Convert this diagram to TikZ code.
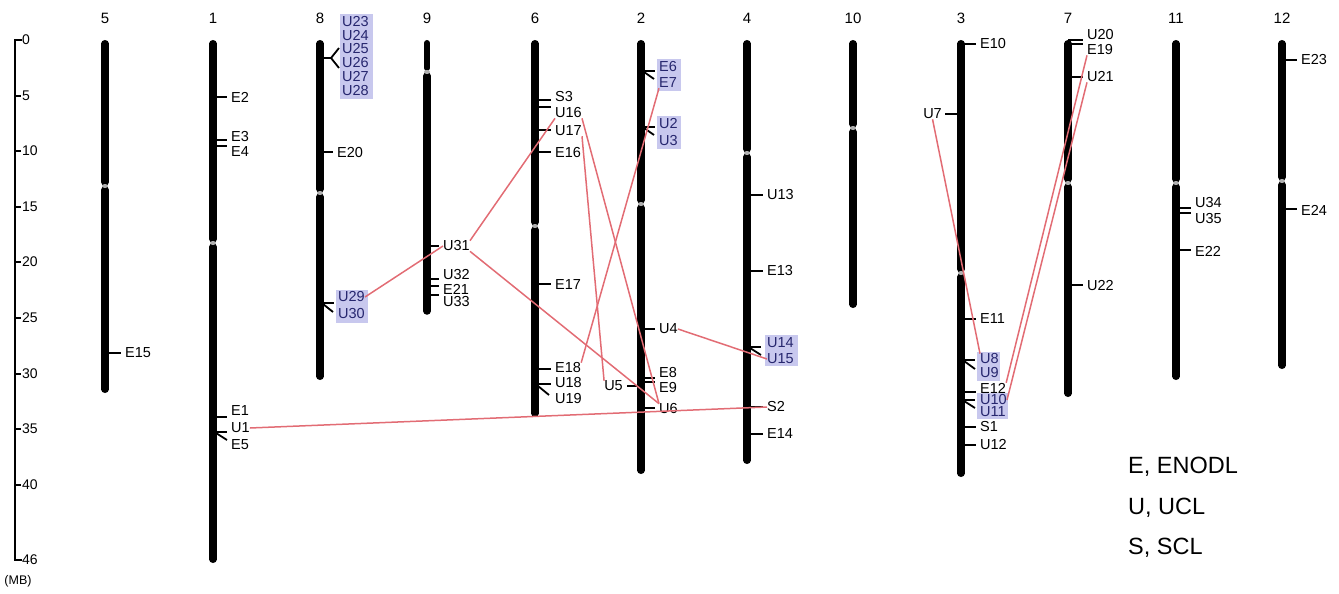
\documentclass[tikz,border=0pt]{standalone}
\usepackage{fontspec}
\setmainfont{Liberation Sans}
\definecolor{linkred}{RGB}{226,108,116}
\definecolor{hl}{RGB}{200,200,238}
\definecolor{hltext}{RGB}{38,38,110}
\definecolor{cengray}{RGB}{175,175,175}
\tikzset{
  chrom/.style={line width=7.5pt, line cap=round},
  marktick/.style={line width=1.8pt},
  mlabel/.style={anchor=west, inner sep=0pt, font=\fontsize{14.5}{16}\selectfont},
  hlabel/.style={mlabel, text=hltext},
  hbox/.style={fill=hl, draw=none},
  chrnum/.style={inner sep=0pt, font=\fontsize{15}{16}\selectfont},
  axislabel/.style={anchor=west, inner sep=0pt, font=\fontsize{14}{16}\selectfont},
  legendtext/.style={anchor=west, inner sep=0pt, font=\fontsize{23.5}{25}\selectfont},
  synteny/.style={draw=linkred, line width=1.5pt},
}
% chromosome: name, x, top, centromere, bottom, number
\newcommand\chrbar[6]{%
  \draw[chrom] (#2,#3+3.75) -- (#2,#4-4);
  \draw[chrom] (#2,#4+4) -- (#2,#5-3.75);
  \fill[cengray] (#2,#4) ellipse (3 and 2);
  \node[chrnum] (#1) at (#2,18) {#6};
}
% marker: name, chromosome x, tick y, label x, label y, text
\newcommand\mrk[6]{%
  \draw[marktick] (#2,#3) -- (#4-4,#3);
  \node[mlabel] (#1) at (#4,#5) {#6};
}
\begin{document}
\begin{tikzpicture}[x=1pt,y=-1pt]
\useasboundingbox (0,0) rectangle (1339,594);

% ---- scale bar (MB) ----
\draw[line width=1.6pt] (22,40) -- (15,40) -- (15,560) -- (22,560);
\foreach \yy/\lab in {40/0,96/5,151/10,207/15,262/20,318/25,374/30,429/35,485/40,560/46}{
  \draw[line width=1.6pt] (15,\yy) -- (21,\yy);
  \node[axislabel] (ax\lab) at (22,\yy) {\lab};
}
\node[inner sep=0pt, font=\fontsize{12.5}{14}\selectfont] (mb) at (18,581) {(MB)};

% ---- highlight boxes ----
\fill[hbox] (340,14) rectangle (373,99);
\fill[hbox] (336,290) rectangle (368,323);
\fill[hbox] (657,59) rectangle (681,91);
\fill[hbox] (657,116) rectangle (681,149);
\fill[hbox] (765,335) rectangle (798,366);
\fill[hbox] (977,352) rectangle (1000,381);
\fill[hbox] (977,393) rectangle (1008,419);

% ---- chromosomes ----
\chrbar{c5}{105}{40}{186}{393}{5}
\chrbar{c1}{213}{40}{243}{563}{1}
\chrbar{c8}{320}{40}{193}{380}{8}
\draw[line width=6pt, line cap=round] (427,43) -- (427,68);
\draw[chrom] (427,76) -- (427,311);
\fill[cengray] (427,72) ellipse (3 and 2);
\node[chrnum] (c9) at (427,18) {9};
\chrbar{c6}{535}{40}{226}{417}{6}
\chrbar{c2}{641}{40}{204}{474}{2}
\chrbar{c4}{747}{40}{153}{464}{4}
\chrbar{c10}{853}{40}{128}{308}{10}
\chrbar{c3}{961}{40}{273}{477}{3}
\chrbar{c7}{1068}{40}{183}{397}{7}
\chrbar{c11}{1176}{40}{183}{380}{11}
\chrbar{c12}{1282}{40}{181}{369}{12}

% ---- chromosome 5 ----
\mrk{E15}{105}{353}{125}{353}{E15}

% ---- chromosome 1 ----
\mrk{E2}{213}{97}{231}{97}{E2}
\mrk{E3}{213}{140}{231}{137}{E3}
\mrk{E4}{213}{146}{231}{152}{E4}
\mrk{E1}{213}{417}{231}{411}{E1}
\mrk{U1}{213}{432}{231}{428}{U1}
\draw[marktick] (216,433) -- (227,440);
\node[mlabel] (E5) at (231,445) {E5};

% ---- chromosome 8 ----
\draw[marktick] (320,58) -- (332,58);
\draw[marktick] (331,58) -- (339,48);
\draw[marktick] (331,58) -- (339,68);
\foreach \nm/\yy in {U23/22,U24/36,U25/49,U26/63,U27/77,U28/91}{
  \node[hlabel] (\nm) at (342,\yy) {\nm};
}
\mrk{E20}{320}{152}{337}{153}{E20}
\draw[marktick] (320,303) -- (334,303);
\draw[marktick] (323,304) -- (333,312);
\node[hlabel] (U29) at (338,297) {U29};
\node[hlabel] (U30) at (338,314) {U30};

% ---- chromosome 9 ----
\mrk{U31}{427}{246}{443}{246}{U31}
\mrk{U32}{427}{279}{443}{275}{U32}
\mrk{E21}{427}{286}{443}{289}{E21}
\mrk{U33}{427}{295}{443}{302}{U33}

% ---- chromosome 6 ----
\mrk{S3}{535}{100}{555}{97}{S3}
\mrk{U16}{535}{107}{555}{113}{U16}
\mrk{U17}{535}{130}{555}{131}{U17}
\mrk{E16}{535}{152}{555}{153}{E16}
\mrk{E17}{535}{284}{555}{285}{E17}
\mrk{E18}{535}{369}{555}{368}{E18}
\mrk{U18}{535}{384}{555}{383}{U18}
\draw[marktick] (538,386) -- (549,395);
\node[mlabel] (U19) at (555,399) {U19};

% ---- chromosome 2 ----
\draw[marktick] (641,71) -- (655,71);
\draw[marktick] (644,72) -- (654,79);
\node[hlabel] (E6) at (659,67) {E6};
\node[hlabel] (E7) at (659,83) {E7};
\draw[marktick] (641,127) -- (655,127);
\draw[marktick] (644,128) -- (654,135);
\node[hlabel] (U2) at (659,124) {U2};
\node[hlabel] (U3) at (659,141) {U3};
\mrk{U4}{641}{329}{659}{329}{U4}
\mrk{E8}{641}{378}{659}{373}{E8}
\mrk{E9}{641}{382}{659}{388}{E9}
\draw[marktick] (627,386) -- (641,386);
\node[mlabel, anchor=east] (U5) at (623,386) {U5};
\mrk{U6}{641}{408}{659}{409}{U6}

% ---- chromosome 4 ----
\mrk{U13}{747}{195}{767}{195}{U13}
\mrk{E13}{747}{271}{767}{271}{E13}
\draw[marktick] (747,347) -- (761,347);
\draw[marktick] (750,348) -- (761,355);
\node[hlabel] (U14) at (767,343) {U14};
\node[hlabel] (U15) at (767,359) {U15};
\mrk{S2}{747}{407}{767}{407}{S2}
\mrk{E14}{747}{434}{767}{434}{E14}

% ---- chromosome 3 ----
\mrk{E10}{961}{44}{980}{44}{E10}
\draw[marktick] (945,114) -- (961,114);
\node[mlabel, anchor=east] (U7) at (942,114) {U7};
\mrk{E11}{961}{319}{980}{319}{E11}
\draw[marktick] (961,360) -- (975,360);
\draw[marktick] (964,361) -- (975,369);
\node[hlabel] (U8) at (980,359) {U8};
\node[hlabel] (U9) at (980,373) {U9};
\mrk{E12}{961}{392}{980}{388}{E12}
\draw[marktick] (961,400) -- (975,400);
\draw[marktick] (964,401) -- (975,408);
\node[hlabel] (U10) at (980,400) {U10};
\node[hlabel] (U11) at (980,412) {U11};
\mrk{S1}{961}{427}{980}{427}{S1}
\mrk{U12}{961}{445}{980}{445}{U12}

% ---- chromosome 7 ----
\mrk{U20}{1068}{40}{1087}{35}{U20}
\mrk{E19}{1068}{44}{1087}{50}{E19}
\mrk{U21}{1068}{77}{1087}{77}{U21}
\mrk{U22}{1068}{285}{1087}{286}{U22}

% ---- chromosome 11 ----
\mrk{U34}{1176}{208}{1195}{203}{U34}
\mrk{U35}{1176}{213}{1195}{219}{U35}
\mrk{E22}{1176}{250}{1195}{251}{E22}

% ---- chromosome 12 ----
\mrk{E23}{1282}{60}{1301}{60}{E23}
\mrk{E24}{1282}{209}{1301}{210}{E24}

% ---- syntenic links ----
\draw[synteny] (U29.east) -- (U31.west);
\draw[synteny] (U31.north east) -- (U16.south west);
\draw[synteny] (U31.south east) -- (U6.north west);
\draw[synteny] (U16.south east) -- (U6.north west);
\draw[synteny] (U17.south east) -- (U5.north west);
\draw[synteny] (E7.south west) -- (E18.north east);
\draw[synteny] (U4.east) -- (U15.west);
\draw[synteny] (U1.east) -- (S2.west);
\draw[synteny] (U7.south) -- (U8.north west);
\draw[synteny] (E19.south west) -- (E12.north east);
\draw[synteny] (U21.south west) -- (U10.east);

% ---- legend ----
\node[legendtext] (legE) at (1128,467) {E, ENODL};
\node[legendtext] (legU) at (1128,508) {U, UCL};
\node[legendtext] (legS) at (1128,548) {S, SCL};
\end{tikzpicture}
\end{document}
